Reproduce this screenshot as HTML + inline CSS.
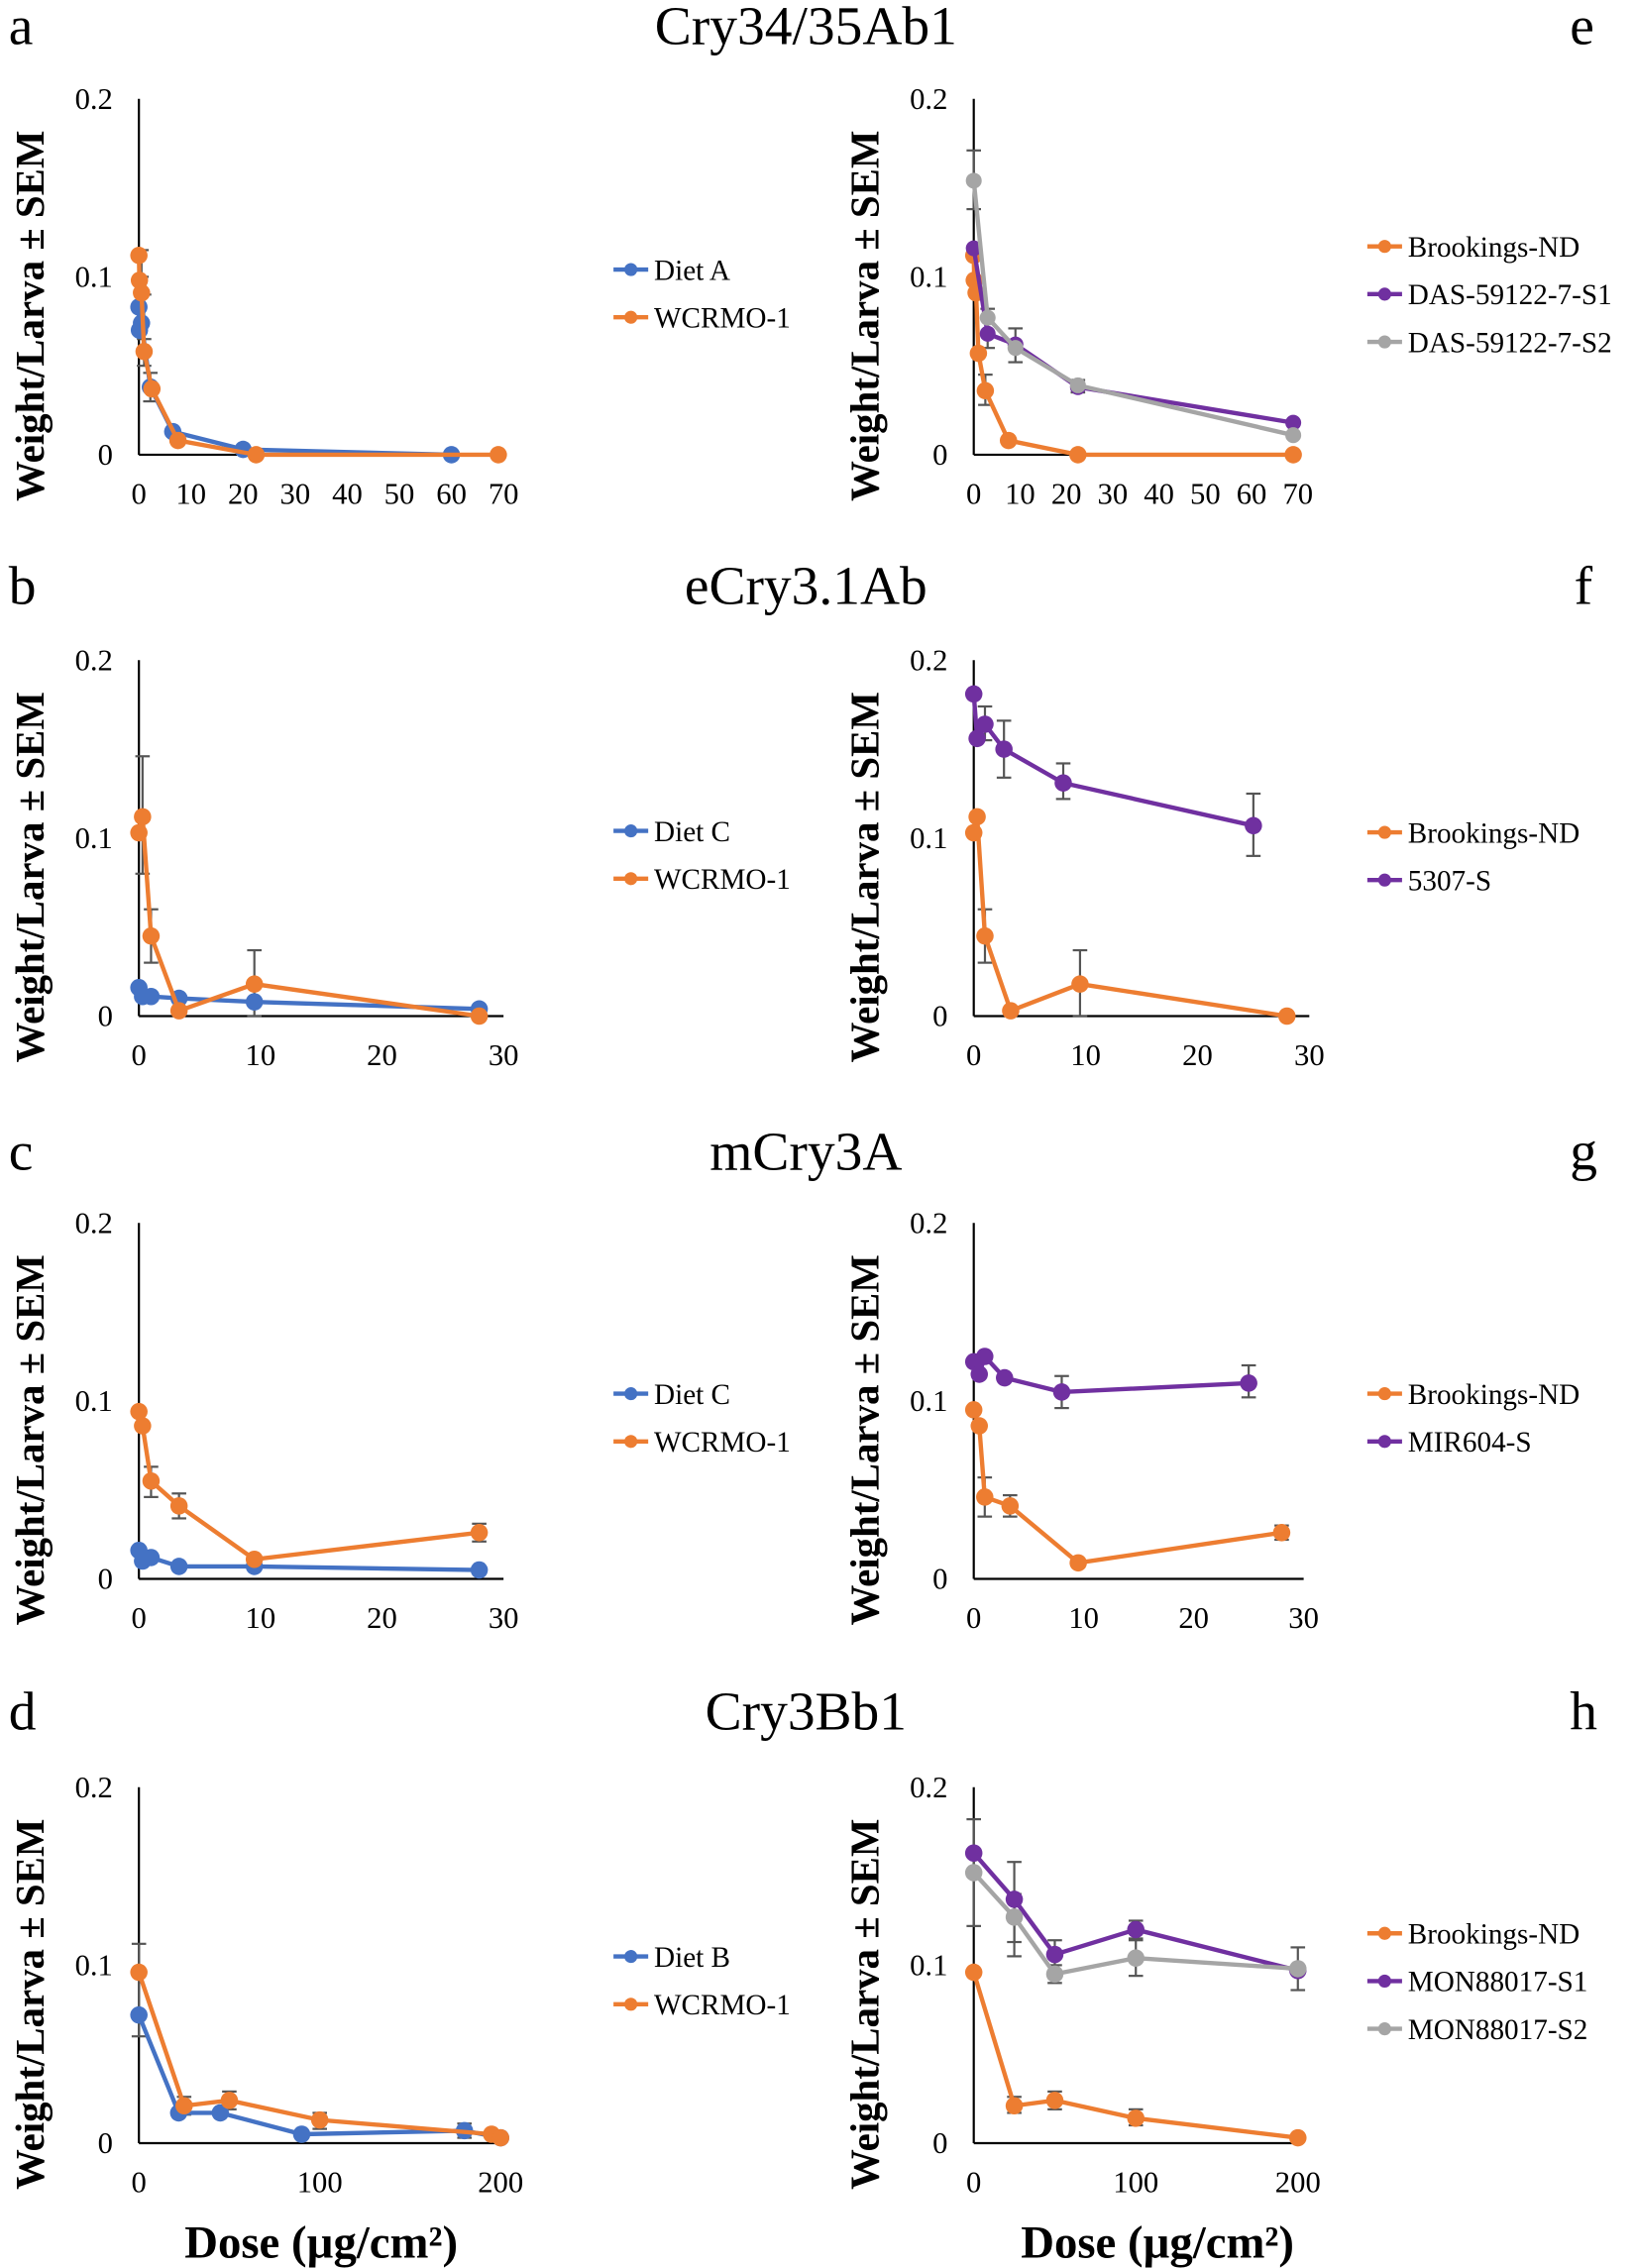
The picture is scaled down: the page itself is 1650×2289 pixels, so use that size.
<!DOCTYPE html>
<html><head><meta charset="utf-8"><style>
html,body{margin:0;padding:0;background:#fff;}
svg{display:block;}
</style></head><body>
<svg id="s" width="1650" height="2289" viewBox="0 0 1130 1567" xmlns="http://www.w3.org/2000/svg" font-family="'Liberation Serif', serif">
<rect width="1130" height="1567" fill="#fff"/>
<g font-size="38">
<text x="6" y="30">a</text><text x="557" y="30" text-anchor="middle">Cry34/35Ab1</text><text x="1085" y="30">e</text>
<text x="6" y="417">b</text><text x="557" y="417" text-anchor="middle">eCry3.1Ab</text><text x="1088" y="417">f</text>
<text x="6" y="808">c</text><text x="557" y="808" text-anchor="middle">mCry3A</text><text x="1085" y="808">g</text>
<text x="6" y="1195">d</text><text x="557" y="1195" text-anchor="middle">Cry3Bb1</text><text x="1085" y="1195">h</text>
</g>
<g font-size="32" font-weight="bold" text-anchor="middle">
<text x="222" y="1560">Dose (µg/cm²)</text><text x="800" y="1560">Dose (µg/cm²)</text>
</g>
<g id="plots"></g>
</svg>
<script>
var NS="http://www.w3.org/2000/svg",G=document.getElementById("plots");
function el(t,a,txt){var e=document.createElementNS(NS,t);for(var k in a)e.setAttribute(k,a[k]);if(txt!==undefined)e.textContent=txt;G.appendChild(e);return e;}
var C={b:"#4472C4",o:"#ED7D31",p:"#7030A0",g:"#A5A5A5"};
function panel(o){
 var ax=o.ax,y0=o.y0,ys=1230;
 function X(v){return ax+v*o.sx;} function Y(v){return y0-v*ys;}
 el("line",{x1:ax,y1:Y(0.2),x2:ax,y2:y0,stroke:"#000","stroke-width":1.5});
 el("line",{x1:ax,y1:y0,x2:X(o.xmax),y2:y0,stroke:"#000","stroke-width":1.5});
 [["0.2",0.2],["0.1",0.1],["0",0]].forEach(function(t){el("text",{x:ax-18,y:Y(t[1])+7,"font-size":21,"text-anchor":"end"},t[0]);});
 o.xt.forEach(function(t){el("text",{x:X(t),y:y0+34,"font-size":21,"text-anchor":"middle"},String(t));});
 el("text",{transform:"translate("+(ax-66)+","+(y0-96)+") rotate(-90)","font-size":28,"font-weight":"bold","text-anchor":"middle"},"Weight/Larva ± SEM");
 o.series.forEach(function(s){
  (s.e||[]).forEach(function(e){var x=X(e[0]);el("line",{x1:x,y1:Y(e[1]),x2:x,y2:Y(e[2]),stroke:"#555","stroke-width":1.5});
   [e[1],e[2]].forEach(function(v){el("line",{x1:x-5,y1:Y(v),x2:x+5,y2:Y(v),stroke:"#555","stroke-width":1.5});});});
 });
 o.series.forEach(function(s){
  var pts=s.d.map(function(p){return X(p[0])+","+Y(p[1]);}).join(" ");
  el("polyline",{points:pts,fill:"none",stroke:C[s.c],"stroke-width":3});
  s.d.forEach(function(p){el("circle",{cx:X(p[0]),cy:Y(p[1]),r:s.r||6,fill:C[s.c]});});
 });
 o.series.forEach(function(s,i){
  var ly=o.ly+i*33;
  el("line",{x1:o.lx,y1:ly,x2:o.lx+24,y2:ly,stroke:C[s.c],"stroke-width":3});
  el("circle",{cx:o.lx+12,cy:ly,r:4.5,fill:C[s.c]});
  el("text",{x:o.lx+28,y:ly+7,"font-size":20},s.n);
 });
}
var L=96,R=673;
panel({ax:L,y0:314,sx:3.6,xmax:70,xt:[0,10,20,30,40,50,60,70],lx:424,ly:186,series:[
 {c:"b",n:"Diet A",d:[[0,0.083],[0.1,0.07],[0.5,0.074],[2.2,0.038],[6.5,0.013],[20,0.003],[60,0]],e:[[1,0.06,0.09],[2.2,0.03,0.046]]},
 {c:"o",n:"WCRMO-1",d:[[0,0.112],[0.1,0.098],[0.5,0.091],[1,0.058],[2.5,0.037],[7.5,0.008],[22.5,0],[69,0]],e:[[0.5,0.1,0.115],[1,0.05,0.065]]}]});
panel({ax:R,y0:314,sx:3.2,xmax:70,xt:[0,10,20,30,40,50,60,70],lx:945,ly:170,series:[
 {c:"o",n:"Brookings-ND",d:[[0,0.112],[0.1,0.098],[0.5,0.091],[1,0.057],[2.5,0.036],[7.5,0.008],[22.5,0],[69,0]],e:[[2.5,0.028,0.045]]},
 {c:"p",n:"DAS-59122-7-S1",r:5.5,d:[[0,0.116],[3,0.068],[9,0.062],[22.5,0.038],[69,0.018]],e:[[9,0.052,0.071]]},
 {c:"g",n:"DAS-59122-7-S2",r:5.5,d:[[0,0.154],[3,0.077],[9,0.06],[22.5,0.039],[69,0.011]],e:[[0,0.138,0.171],[3,0.06,0.082],[22.5,0.035,0.042]]}]});
panel({ax:L,y0:702,sx:8.4,xmax:30,xt:[0,10,20,30],lx:424,ly:574,series:[
 {c:"b",n:"Diet C",d:[[0,0.016],[0.3,0.011],[1,0.011],[3.3,0.01],[9.5,0.008],[28,0.004]]},
 {c:"o",n:"WCRMO-1",d:[[0,0.103],[0.3,0.112],[1,0.045],[3.3,0.003],[9.5,0.018],[28,0]],e:[[0.3,0.08,0.146],[1,0.03,0.06],[9.5,0,0.037]]}]});
panel({ax:R,y0:702,sx:7.73,xmax:30,xt:[0,10,20,30],lx:945,ly:575,series:[
 {c:"o",n:"Brookings-ND",d:[[0,0.103],[0.3,0.112],[1,0.045],[3.3,0.003],[9.5,0.018],[28,0]],e:[[1,0.03,0.06],[9.5,0,0.037]]},
 {c:"p",n:"5307-S",d:[[0,0.181],[0.3,0.156],[1,0.164],[2.7,0.15],[8,0.131],[25,0.107]],e:[[1,0.155,0.174],[2.7,0.134,0.166],[8,0.122,0.142],[25,0.09,0.125]]}]});
panel({ax:L,y0:1091,sx:8.4,xmax:30,xt:[0,10,20,30],lx:424,ly:963,series:[
 {c:"b",n:"Diet C",d:[[0,0.016],[0.3,0.01],[1,0.012],[3.3,0.007],[9.5,0.007],[28,0.005]]},
 {c:"o",n:"WCRMO-1",d:[[0,0.094],[0.3,0.086],[1,0.055],[3.3,0.041],[9.5,0.011],[28,0.026]],e:[[1,0.046,0.063],[3.3,0.034,0.048],[28,0.021,0.031]]}]});
panel({ax:R,y0:1091,sx:7.6,xmax:30,xt:[0,10,20,30],lx:945,ly:963,series:[
 {c:"o",n:"Brookings-ND",d:[[0,0.095],[0.5,0.086],[1,0.046],[3.3,0.041],[9.5,0.009],[28,0.026]],e:[[1,0.035,0.057],[3.3,0.035,0.047],[28,0.022,0.03]]},
 {c:"p",n:"MIR604-S",d:[[0,0.122],[0.5,0.115],[1,0.125],[2.8,0.113],[8,0.105],[25,0.11]],e:[[8,0.096,0.114],[25,0.102,0.12]]}]});
panel({ax:L,y0:1481,sx:1.25,xmax:200,xt:[0,100,200],lx:424,ly:1352,series:[
 {c:"b",n:"Diet B",d:[[0,0.072],[22,0.017],[45,0.017],[90,0.005],[180,0.007],[200,0.003]],e:[[0,0.06,0.112],[180,0.003,0.011]]},
 {c:"o",n:"WCRMO-1",d:[[0,0.096],[25,0.021],[50,0.024],[100,0.013],[195,0.005],[200,0.003]],e:[[25,0.016,0.026],[50,0.019,0.029],[100,0.008,0.017]]}]});
panel({ax:R,y0:1481,sx:1.12,xmax:200,xt:[0,100,200],lx:945,ly:1336,series:[
 {c:"o",n:"Brookings-ND",d:[[0,0.096],[25,0.021],[50,0.024],[100,0.014],[200,0.003]],e:[[25,0.017,0.026],[50,0.019,0.029],[100,0.01,0.019]]},
 {c:"p",n:"MON88017-S1",d:[[0,0.163],[25,0.137],[50,0.106],[100,0.12],[200,0.097]],e:[[25,0.113,0.158],[50,0.096,0.114],[100,0.115,0.125],[200,0.086,0.11]]},
 {c:"g",n:"MON88017-S2",d:[[0,0.152],[25,0.127],[50,0.095],[100,0.104],[200,0.098]],e:[[0,0.122,0.182],[25,0.105,0.14],[50,0.09,0.1],[100,0.094,0.114]]}]});
</script>
</body></html>
